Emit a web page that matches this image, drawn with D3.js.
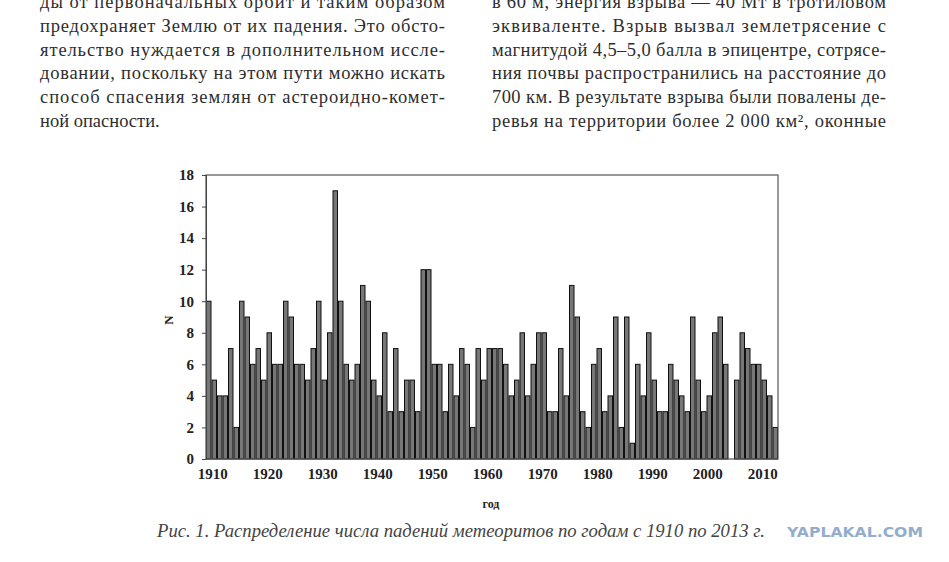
<!DOCTYPE html>
<html>
  <head>
    <meta charset="utf-8">
    <script type="text/javascript" src="https://cdn.jsdelivr.net/npm/d3@7"></script>
    <style>
      body { margin: 0; background: #fff; }
    </style>
  </head>
  <body>
  <script type='text/javascript'>

    // meteorite falls per year, 1910..2013
    var years = d3.range(1910, 2014);
    var counts = [10, 5, 4, 4, 7, 2, 10, 9, 6, 7,
                  5, 8, 6, 6, 10, 9, 6, 6, 5, 7,
                  10, 5, 8, 17, 10, 6, 5, 6, 11, 10,
                  5, 4, 8, 3, 7, 3, 5, 5, 3, 12,
                  12, 6, 6, 3, 6, 4, 7, 6, 2, 7,
                  5, 7, 7, 7, 6, 4, 5, 8, 4, 6,
                  8, 8, 3, 3, 7, 4, 11, 9, 3, 2,
                  6, 7, 3, 4, 9, 2, 9, 1, 6, 4,
                  8, 5, 3, 3, 6, 5, 4, 3, 9, 5,
                  3, 4, 8, 9, 6, 0, 5, 8, 7, 6,
                  6, 5, 4, 2];
    var yTicks = [0, 2, 4, 6, 8, 10, 12, 14, 16, 18];
    var xTickYears = [1910, 1920, 1930, 1940, 1950, 1960, 1970, 1980, 1990, 2000, 2010];

    var leftLines = [
      "ды от первоначальных орбит и таким образом",
      "предохраняет Землю от их падения. Это обсто-",
      "ятельство нуждается в дополнительном иссле-",
      "довании, поскольку на этом пути можно искать",
      "способ спасения землян от астероидно-комет-",
      "ной опасности."
    ];
    var rightLines = [
      "в 60 м, энергия взрыва — 40 Мт в тротиловом",
      "эквиваленте. Взрыв вызвал землетрясение с",
      "магнитудой 4,5–5,0 балла в эпицентре, сотрясе-",
      "ния почвы распространились на расстояние до",
      "700 км. В результате взрыва были повалены де-",
      "ревья на территории более 2 000 км², оконные"
    ];
    var caption = "Рис. 1. Распределение числа падений метеоритов по годам с 1910 по 2013 г.";

    var SERIF = "'Times New Roman', 'Liberation Serif', Tinos, serif";

    var svg = d3.select("body").append("svg")
        .attr("width", 949)
        .attr("height", 562);

    svg.append("rect")
        .attr("width", "100%")
        .attr("height", "100%")
        .attr("fill", "#fff");

    // TEXT COLUMNS //
    function column(lines, x0, x1, lastJustified){
      var g = svg.append("g")
          .attr("font-family", SERIF)
          .attr("font-size", 18.5)
          .attr("fill", "#2e2e2e");
      lines.forEach(function(s, i){
        var t = g.append("text")
            .attr("x", x0)
            .attr("y", 8 + i*23.8)
            .text(s);
        if(i < lines.length-1 || lastJustified){
          t.attr("textLength", x1 - x0)
           .attr("lengthAdjust", "spacing");
        }
      });
    }
    column(leftLines, 40, 445, false);
    column(rightLines, 492, 886, true);

    // CHART //
    var plotLeft = 206, plotRight = 778, plotTop = 175, plotBottom = 459;

    var x = d3.scaleBand()
        .domain(years)
        .range([plotLeft, plotRight])
        .padding(0);

    var y = d3.scaleLinear()
        .domain([0, 18])
        .range([plotBottom, plotTop]);

    svg.append("g")
        .selectAll("rect")
        .data(counts)
        .enter().append("rect")
        .attr("x", function(d, i){ return x(years[i]) + 0.5; })
        .attr("y", function(d){ return y(d); })
        .attr("width", x.bandwidth() - 1)
        .attr("height", function(d){ return plotBottom - y(d); })
        .attr("fill", "#777")
        .attr("stroke", "#111")
        .attr("stroke-width", 1);

    // frame
    svg.append("rect")
        .attr("x", plotLeft)
        .attr("y", plotTop)
        .attr("width", plotRight - plotLeft)
        .attr("height", plotBottom - plotTop)
        .attr("fill", "none")
        .attr("stroke", "#555")
        .attr("stroke-width", 1.2);

    var yAxis = d3.axisLeft(y)
        .tickValues(yTicks)
        .tickSize(4)
        .tickPadding(8);

    var ya = svg.append("g")
        .attr("transform", "translate(" + plotLeft + ",0)")
        .call(yAxis);
    ya.select(".domain").attr("stroke", "#444");
    ya.selectAll("line").attr("stroke", "#444");
    ya.selectAll("text")
        .attr("font-family", SERIF)
        .attr("font-weight", "bold")
        .attr("font-size", 15)
        .attr("fill", "#222");

    var xAxis = d3.axisBottom(x)
        .tickValues(xTickYears)
        .tickSize(0)
        .tickPadding(9);

    var xa = svg.append("g")
        .attr("transform", "translate(4," + plotBottom + ")")
        .call(xAxis);
    xa.select(".domain").remove();
    xa.selectAll("text")
        .attr("font-family", SERIF)
        .attr("font-weight", "bold")
        .attr("font-size", 15)
        .attr("fill", "#222");

    // axis titles
    svg.append("text")
        .attr("transform", "translate(173,320) rotate(-90)")
        .attr("text-anchor", "middle")
        .attr("font-family", SERIF)
        .attr("font-weight", "bold")
        .attr("font-size", 13)
        .attr("fill", "#222")
        .text("N");

    svg.append("text")
        .attr("x", 491)
        .attr("y", 508)
        .attr("text-anchor", "middle")
        .attr("font-family", SERIF)
        .attr("font-weight", "bold")
        .attr("font-size", 12)
        .attr("fill", "#222")
        .text("год");

    // CAPTION //
    svg.append("text")
        .attr("x", 157)
        .attr("y", 537)
        .attr("textLength", 608)
        .attr("lengthAdjust", "spacingAndGlyphs")
        .attr("font-family", SERIF)
        .attr("font-style", "italic")
        .attr("font-size", 18)
        .attr("fill", "#444")
        .text(caption);

    svg.append("text")
        .attr("x", 787)
        .attr("y", 537)
        .attr("textLength", 136)
        .attr("lengthAdjust", "spacingAndGlyphs")
        .attr("font-family", "'DejaVu Sans', sans-serif")
        .attr("font-weight", "bold")
        .attr("font-size", 14)
        .attr("fill", "#93aecb")
        .text("YAPLAKAL.COM");

  </script>
  </body>
</html>
